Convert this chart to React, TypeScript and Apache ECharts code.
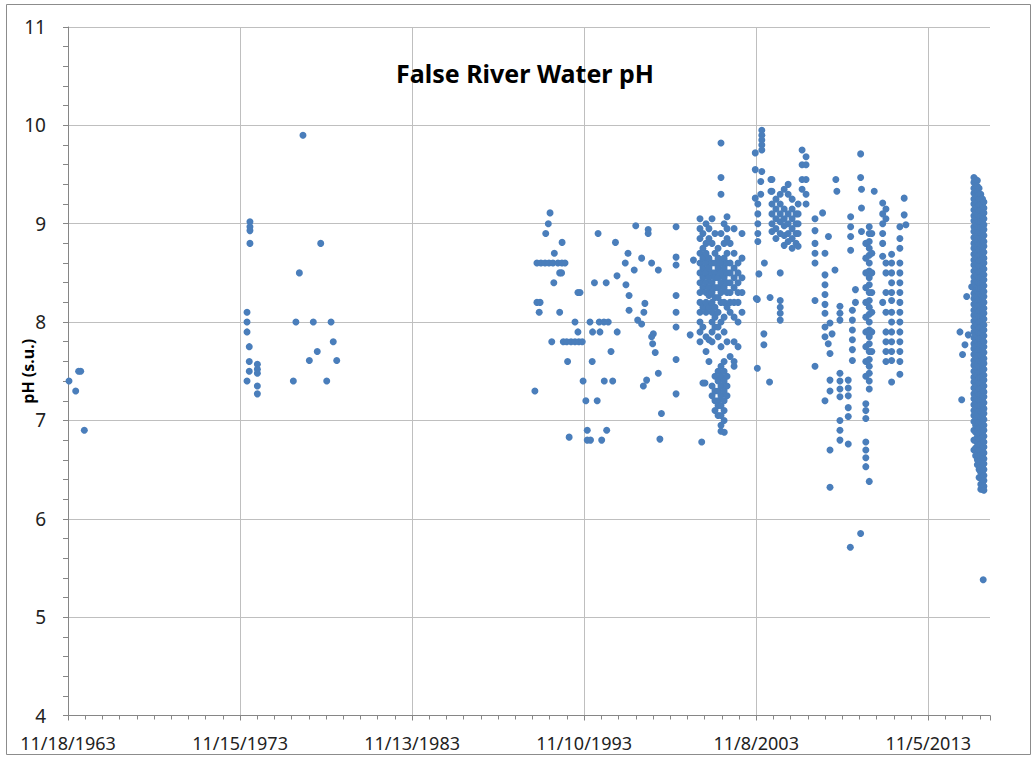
import React, { useEffect, useRef } from "react";
import * as echarts from "echarts";

// ---- axis setup (x = days since 11/18/1963) ----
const ORIGIN_UTC = Date.UTC(1963, 10, 18);
const ORIGIN_YEAR = 1963.882;
const X_TICK_DAYS = 3650;
const X_MAX_DAYS = 19560;
const Y_MIN = 4;
const Y_MAX = 11;

const TITLE = "False River Water pH";
const Y_NAME = "pH (s.u.)";

// ---- data: [decimal year, pH] ----
const ph1960s: [number, number][] = [
  [1963.94, 7.4], [1964.33, 7.3], [1964.5, 7.5], [1964.62, 7.5], [1964.83, 6.9],
];

const ph1970s: [number, number][] = [
  [1974.28, 8.1], [1974.28, 8.0], [1974.28, 7.9], [1974.28, 7.4], [1974.41, 7.75],
  [1974.41, 7.6], [1974.41, 7.5], [1974.45, 9.02], [1974.45, 8.97], [1974.45, 8.93],
  [1974.45, 8.8], [1974.88, 7.57], [1974.88, 7.52], [1974.88, 7.48], [1974.88, 7.35],
  [1974.88, 7.27], [1976.97, 7.4], [1977.12, 8.0], [1977.32, 8.5], [1977.53, 9.9],
  [1977.9, 7.61], [1978.13, 8.0], [1978.36, 7.7], [1978.56, 8.8], [1978.91, 7.4],
  [1979.16, 8.0], [1979.29, 7.8], [1979.49, 7.61],
];

const ph1990s: [number, number][] = [
  [1991.0, 7.3], [1991.12, 8.6], [1991.35, 8.6], [1991.59, 8.6], [1991.82, 8.6],
  [1992.05, 8.6], [1992.34, 8.6], [1992.57, 8.6], [1992.75, 8.6], [1991.88, 9.11],
  [1991.78, 9.0], [1991.63, 8.9], [1992.58, 8.81], [1992.13, 8.7], [1992.44, 8.5],
  [1992.55, 8.5], [1992.1, 8.4], [1993.5, 8.3], [1993.62, 8.3], [1991.12, 8.2],
  [1991.3, 8.2], [1991.25, 8.1], [1992.44, 8.1], [1993.33, 8.0], [1993.5, 7.9],
  [1991.98, 7.8], [1992.65, 7.8], [1992.85, 7.8], [1993.1, 7.8], [1993.33, 7.8],
  [1993.55, 7.8], [1993.75, 7.8], [1992.9, 7.6], [1993.8, 7.4], [1993.96, 7.2],
  [1992.99, 6.83], [1994.04, 6.9], [1994.04, 6.8], [1994.23, 6.8], [1994.67, 8.9],
  [1995.68, 8.81], [1996.41, 8.7], [1996.25, 8.6], [1995.77, 8.47], [1994.46, 8.4],
  [1995.14, 8.4], [1996.29, 8.38], [1996.47, 8.27], [1994.2, 8.0], [1994.74, 8.0],
  [1995.01, 8.0], [1995.26, 8.0], [1994.35, 7.9], [1994.78, 7.9], [1995.78, 7.9],
  [1995.42, 7.7], [1994.33, 7.6], [1995.03, 7.4], [1995.52, 7.4], [1994.62, 7.2],
  [1995.17, 6.9], [1994.88, 6.8], [1996.86, 8.98], [1997.58, 8.94], [1997.58, 8.9],
  [1997.2, 8.65], [1997.78, 8.6], [1998.17, 8.53], [1996.77, 8.53], [1997.39, 8.19],
  [1996.47, 8.12], [1997.33, 8.1], [1996.97, 8.02], [1997.2, 7.98], [1997.88, 7.88],
  [1997.78, 7.85], [1997.84, 7.78], [1997.99, 7.69], [1998.17, 7.48], [1997.49, 7.41],
  [1997.3, 7.35], [1998.35, 7.07], [1998.26, 6.81], [1999.2, 8.97], [1999.2, 8.66],
  [1999.2, 8.58], [1999.2, 8.27], [1999.2, 8.1], [1999.2, 7.95], [1999.2, 7.62],
  [1999.2, 7.27], [2000.02, 7.87], [2000.21, 8.63], [2000.69, 6.78], [2000.88, 7.38],
  [2002.0, 6.88],
];

// dense sampling runs: [decimal year, pH readings]
const runs2000to2003: [number, number[]][] = [
  [2000.59, [9.05, 8.95, 8.85, 8.7, 8.6, 8.5, 8.4, 8.3, 8.2, 8.1, 8.0, 7.9, 7.8]],
  [2000.76, [8.9, 8.75, 8.65, 8.55, 8.45, 8.35, 8.15, 7.95, 7.38]],
  [2000.94, [9.0, 8.8, 8.7, 8.6, 8.5, 8.4, 8.3, 8.2, 8.1, 7.85, 7.7]],
  [2001.11, [8.95, 8.85, 8.65, 8.55, 8.45, 8.35, 8.27, 8.15, 7.82, 7.6]],
  [2001.29, [9.05, 8.8, 8.6, 8.5, 8.4, 8.3, 8.2, 8.1, 8.0, 7.9, 7.8, 7.35, 7.25]],
  [2001.46, [8.9, 8.7, 8.6, 8.5, 8.45, 8.35, 8.25, 8.15, 8.05, 7.95, 7.45, 7.3, 7.2, 7.1]],
  [2001.64, [8.75, 8.65, 8.55, 8.45, 8.35, 8.25, 8.1, 7.95, 7.85, 7.5, 7.4, 7.3, 7.2, 7.15, 7.05]],
  [2001.81, [9.82, 9.47, 9.3, 8.9, 8.6, 8.5, 8.4, 8.3, 8.2, 8.0, 7.75, 7.55, 7.45, 7.35, 7.25, 7.15, 7.05, 6.95, 6.89]],
  [2001.99, [9.0, 8.8, 8.65, 8.55, 8.45, 8.35, 8.2, 8.05, 7.9, 7.6, 7.5, 7.4, 7.3, 7.2, 7.1, 7.0]],
  [2002.16, [9.07, 8.95, 8.85, 8.7, 8.6, 8.5, 8.4, 8.3, 8.15, 7.8, 7.45, 7.35, 7.25]],
  [2002.34, [8.8, 8.6, 8.5, 8.4, 8.3, 8.2, 8.1, 7.65]],
  [2002.57, [8.95, 8.7, 8.55, 8.45, 8.35, 8.2, 8.05, 7.8, 7.6, 7.55]],
  [2002.8, [8.6, 8.5, 8.4, 8.3, 8.2, 8.0, 7.75]],
  [2003.03, [8.9, 8.65, 8.45, 8.3, 8.1]],
];

const runs2003to2012: [number, number[]][] = [
  [2003.8, [9.72, 9.55, 9.26]],
  [2003.86, [8.24]],
  [2003.92, [8.23, 7.53]],
  [2003.95, [9.2, 9.1, 9.0, 8.9, 8.82]],
  [2004.01, [8.49]],
  [2004.12, [9.43, 9.3]],
  [2004.18, [9.95, 9.9, 9.85, 9.8, 9.75, 9.53]],
  [2004.3, [7.88, 7.77]],
  [2004.33, [8.6]],
  [2004.63, [7.39]],
  [2004.66, [8.25]],
  [2004.71, [9.45, 9.33]],
  [2004.77, [9.45, 9.33, 9.2, 9.1, 9.0, 8.92]],
  [2005.0, [9.25, 9.15, 9.05, 8.95, 8.85]],
  [2005.25, [9.3, 9.2, 9.1, 9.02, 8.9, 8.5, 8.22, 8.15, 8.09, 8.02]],
  [2005.48, [9.35, 9.15, 9.05, 8.98, 8.88, 8.78]],
  [2005.71, [9.4, 9.3, 9.1, 9.0, 8.9, 8.82]],
  [2005.94, [9.25, 9.15, 9.05, 8.95, 8.85, 8.75]],
  [2006.17, [9.1, 9.0, 8.9, 8.8]],
  [2006.29, [9.2, 9.1, 9.0, 8.9, 8.77]],
  [2006.52, [9.75, 9.6, 9.45, 9.35]],
  [2006.75, [9.68, 9.6, 9.45, 9.3, 9.2]],
  [2007.27, [9.05, 8.93, 8.8, 8.7, 8.6, 8.22, 7.55]],
  [2007.71, [9.11]],
  [2007.85, [8.7, 8.48, 8.38, 8.28, 8.18, 8.09, 7.95, 7.85, 7.2]],
  [2008.04, [7.78]],
  [2008.05, [8.87]],
  [2008.14, [7.99, 7.68, 7.41, 7.3, 6.7, 6.32]],
  [2008.26, [7.88]],
  [2008.43, [8.53]],
  [2008.48, [9.45]],
  [2008.54, [9.33]],
  [2008.72, [8.16, 8.09, 8.02, 7.48, 7.4, 7.32, 7.24, 7.0, 6.9, 6.8]],
  [2009.2, [7.41, 7.33, 7.25, 7.13, 7.04, 6.76]],
  [2009.32, [5.71]],
  [2009.34, [9.07, 8.97, 8.87, 8.73]],
  [2009.44, [8.12, 8.02, 7.92, 7.82, 7.72, 7.61]],
  [2009.62, [8.33, 8.2]],
  [2009.92, [9.71, 9.47, 5.85]],
  [2009.97, [9.35, 9.16, 8.92]],
  [2010.22, [8.8, 8.65, 8.5, 8.35, 8.2, 8.05, 7.9, 7.75, 7.6, 7.45, 7.17, 7.1, 7.02, 6.78, 6.7, 6.62, 6.53]],
  [2010.42, [8.97, 8.9, 8.82, 8.75, 8.68, 8.6, 8.52, 8.45, 8.38, 8.3, 8.22, 8.15, 8.08, 8.0, 7.92, 7.85, 7.78, 7.7, 7.62, 7.55, 7.48, 7.4, 7.32, 6.38]],
  [2010.57, [8.9, 8.7, 8.5, 8.3, 8.1, 7.9, 7.7]],
  [2010.71, [9.33]],
  [2011.2, [9.21, 9.1, 9.0, 8.9, 8.8, 8.67, 8.2]],
  [2011.39, [9.15, 9.05, 8.6, 8.5, 8.3, 8.1, 7.9, 7.8, 7.7, 7.6]],
  [2011.72, [8.69, 8.6, 8.5, 8.4, 8.3, 8.22, 8.1, 8.0, 7.9, 7.8, 7.7, 7.61, 7.39]],
  [2012.2, [8.97, 8.85, 8.75, 8.6, 8.5, 8.4, 8.3, 8.2, 8.1, 8.0, 7.9, 7.8, 7.7, 7.6, 7.47]],
  [2012.45, [9.26, 9.09]],
  [2012.55, [8.99]],
];

const ph2015: [number, number][] = [
  [2016.37, 8.36], [2016.08, 8.26], [2015.69, 7.9], [2016.17, 7.87], [2015.98, 7.77],
  [2015.84, 7.67], [2015.79, 7.21], [2017.04, 5.38],
];

const runs2016: [number, number[]][] = [
  [2016.5, [9.47, 9.42, 9.36, 9.31, 9.25, 9.2, 9.14, 9.08, 9.03, 8.97, 8.92, 8.86, 8.8, 8.75, 8.69, 8.63, 8.58, 8.52, 8.46, 8.41, 8.35, 8.29, 8.24, 8.18, 8.12, 8.07, 8.01, 7.95, 7.9, 7.84, 7.78, 7.73, 7.67, 7.61, 7.56, 7.5, 7.44, 7.39, 7.33, 7.27, 7.22, 7.16, 7.1, 7.05, 6.99, 6.9, 6.8, 6.7]],
  [2016.6, [9.45, 9.39, 9.34, 9.28, 9.22, 9.17, 9.11, 9.05, 9.0, 8.94, 8.88, 8.83, 8.77, 8.71, 8.66, 8.6, 8.54, 8.49, 8.43, 8.37, 8.32, 8.26, 8.2, 8.15, 8.09, 8.03, 7.98, 7.92, 7.86, 7.81, 7.75, 7.69, 7.64, 7.58, 7.52, 7.47, 7.41, 7.35, 7.3, 7.24, 7.18, 7.13, 7.07, 7.01, 6.95, 6.88, 6.8, 6.72, 6.64]],
  [2016.7, [9.44, 9.38, 9.33, 9.27, 9.21, 9.16, 9.1, 9.04, 8.99, 8.93, 8.87, 8.82, 8.76, 8.7, 8.65, 8.59, 8.53, 8.48, 8.42, 8.36, 8.31, 8.25, 8.19, 8.14, 8.08, 8.02, 7.97, 7.91, 7.85, 7.8, 7.74, 7.68, 7.63, 7.57, 7.51, 7.46, 7.4, 7.34, 7.29, 7.23, 7.17, 7.12, 7.06, 7.0, 6.94, 6.89, 6.83, 6.77, 6.72, 6.66, 6.6, 6.55]],
  [2016.8, [9.36, 9.3, 9.25, 9.19, 9.13, 9.08, 9.02, 8.96, 8.91, 8.85, 8.79, 8.74, 8.68, 8.62, 8.57, 8.51, 8.45, 8.4, 8.34, 8.28, 8.23, 8.17, 8.11, 8.06, 8.0, 7.94, 7.89, 7.83, 7.77, 7.72, 7.66, 7.6, 7.55, 7.49, 7.43, 7.38, 7.32, 7.26, 7.21, 7.15, 7.09, 7.04, 6.98, 6.92, 6.87, 6.81, 6.75, 6.7, 6.64, 6.58, 6.5, 6.42]],
  [2016.9, [9.3, 9.24, 9.19, 9.13, 9.07, 9.02, 8.96, 8.9, 8.85, 8.79, 8.73, 8.68, 8.62, 8.56, 8.51, 8.45, 8.39, 8.34, 8.28, 8.22, 8.17, 8.11, 8.05, 8.0, 7.94, 7.88, 7.83, 7.77, 7.71, 7.66, 7.6, 7.54, 7.49, 7.43, 7.37, 7.32, 7.26, 7.2, 7.15, 7.09, 7.03, 6.98, 6.92, 6.86, 6.81, 6.75, 6.69, 6.64, 6.58, 6.52, 6.47, 6.41, 6.35, 6.3]],
  [2017.0, [9.25, 9.2, 9.14, 9.08, 9.03, 8.97, 8.91, 8.86, 8.8, 8.74, 8.69, 8.63, 8.57, 8.52, 8.46, 8.4, 8.35, 8.29, 8.23, 8.18, 8.12, 8.06, 8.01, 7.95, 7.89, 7.84, 7.78, 7.72, 7.67, 7.61, 7.55, 7.5, 7.44, 7.38, 7.33, 7.27, 7.21, 7.16, 7.1, 7.04, 6.99, 6.93, 6.87, 6.82, 6.76, 6.7, 6.65, 6.59, 6.53, 6.48, 6.42, 6.36, 6.3]],
  [2017.08, [9.22, 9.16, 9.11, 9.05, 8.99, 8.94, 8.88, 8.82, 8.77, 8.71, 8.65, 8.6, 8.54, 8.48, 8.43, 8.37, 8.31, 8.26, 8.2, 8.14, 8.09, 8.03, 7.97, 7.92, 7.86, 7.8, 7.75, 7.69, 7.63, 7.58, 7.52, 7.46, 7.41, 7.35, 7.29, 7.24, 7.18, 7.12, 7.07, 7.01, 6.95, 6.9, 6.84, 6.78, 6.73, 6.67, 6.61, 6.56, 6.5, 6.44, 6.39, 6.33, 6.29]],
];

const toDays = (year: number) => (year - ORIGIN_YEAR) * 365.25;

function buildPoints(): [number, number][] {
  const out: [number, number][] = [];
  const pairs = [...ph1960s, ...ph1970s, ...ph1990s, ...ph2015];
  pairs.forEach(([y, v]) => out.push([toDays(y), v]));
  [...runs2000to2003, ...runs2003to2012, ...runs2016].forEach(([y, vals]) => {
    vals.forEach((v) => out.push([toDays(y), v]));
  });
  return out;
}

function fmtDate(days: number): string {
  const d = new Date(ORIGIN_UTC + Math.round(days) * 86400000);
  return `${d.getUTCMonth() + 1}/${d.getUTCDate()}/${d.getUTCFullYear()}`;
}

const FONT = "'Noto Sans', 'DejaVu Sans', sans-serif";
const AXIS_COLOR = "#868686";
const GRID_COLOR = "#bfbfbf";

export default function App() {
  const ref = useRef<HTMLDivElement>(null);
  useEffect(() => {
    document.body.style.margin = "0";
    if (!ref.current) return;
    const chart = echarts.init(ref.current, null, { renderer: "svg" });
    chart.setOption({
      animation: false,
      backgroundColor: "#ffffff",
      textStyle: { fontFamily: FONT },
      title: {
        text: TITLE,
        left: 520,
        top: 55,
        textAlign: "center",
        textStyle: { fontFamily: FONT, fontSize: 25, fontWeight: "bold", color: "#000" },
      },
      graphic: [
        {
          type: "rect",
          shape: { x: 6.5, y: 4.5, width: 1024, height: 750 },
          style: { fill: "none", stroke: "#8c8c8c", lineWidth: 1 },
          silent: true,
        },
      ],
      grid: { left: 68, right: 43, top: 27, bottom: 41.5, containLabel: false },
      xAxis: {
        type: "value",
        min: 0,
        max: X_MAX_DAYS,
        interval: X_TICK_DAYS,
        axisLine: { show: true, lineStyle: { color: AXIS_COLOR, width: 1 } },
        axisTick: { show: true, length: 5, lineStyle: { color: AXIS_COLOR } },
        minorTick: { show: true, splitNumber: 10, length: 4, lineStyle: { color: AXIS_COLOR } },
        splitLine: { show: true, showMaxLine: false, lineStyle: { color: GRID_COLOR, width: 1 } },
        axisLabel: {
          showMaxLabel: false,
          margin: 18,
          fontSize: 18,
          fontFamily: FONT,
          color: "#222",
          formatter: (v: number) => (Math.round(v) % X_TICK_DAYS === 0 ? fmtDate(v) : ""),
        },
      },
      yAxis: {
        type: "value",
        min: Y_MIN,
        max: Y_MAX,
        interval: 1,
        name: Y_NAME,
        nameLocation: "middle",
        nameGap: 32,
        nameRotate: 90,
        nameMoveOverlap: false,
        nameTextStyle: { fontFamily: FONT, fontSize: 16, fontWeight: "bold", color: "#000" },
        axisLine: { show: true, lineStyle: { color: AXIS_COLOR, width: 1 } },
        axisTick: { show: true, length: 5, lineStyle: { color: AXIS_COLOR } },
        minorTick: { show: true, splitNumber: 5, length: 5, lineStyle: { color: AXIS_COLOR } },
        splitLine: { show: true, lineStyle: { color: GRID_COLOR, width: 1 } },
        axisLabel: { margin: 22, fontSize: 19, fontFamily: FONT, color: "#222" },
      },
      series: [
        {
          type: "scatter",
          data: buildPoints(),
          symbol: "circle",
          symbolSize: 7,
          itemStyle: { color: "#4a7ebb", opacity: 1 },
          emphasis: { disabled: true },
        },
      ],
    });
    return () => chart.dispose();
  }, []);
  return <div ref={ref} style={{ width: 1033, height: 757 }} />;
}
